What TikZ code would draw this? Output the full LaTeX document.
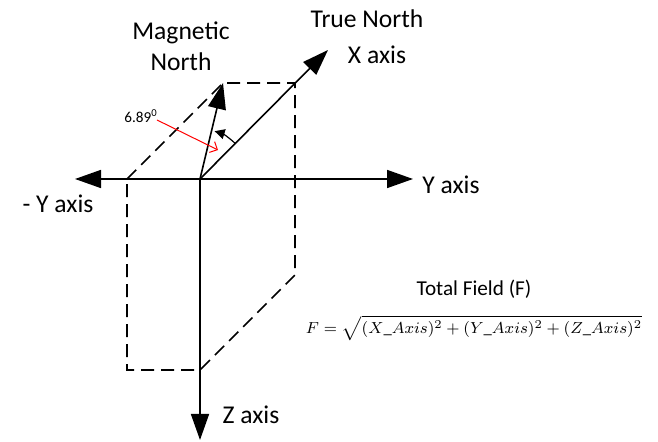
\documentclass[tikz,border=0pt]{standalone}
\usepackage{fontspec}
\setmainfont{Carlito}
\usepackage{tikz}
\usetikzlibrary{arrows.meta}

\begin{document}
\begin{tikzpicture}[x=0.5pt,y=-0.5pt,
    axis/.style={line width=0.8pt,-{Triangle[length=13pt,width=9pt]}},
    proj/.style={line width=0.8pt,dash pattern=on 6.5pt off 3.5pt},
    lbl/.style={font=\fontsize{12.8}{15.5}\selectfont,inner sep=0pt}]
  \useasboundingbox (0,0) rectangle (658,442);
  % origin and axis ends
  \coordinate (O) at (200,179);
  \coordinate (ypos) at (413,179);
  \coordinate (yneg) at (75,179);
  \coordinate (zneg) at (200,440);
  \coordinate (tnorth) at (328,50);
  \coordinate (mnorth) at (223,83);
  % dashed projection box
  \draw[proj] (127,179) -- (mnorth) -- (295,83) -- (295,275) -- (200,370) -- (127,370) -- cycle;
  % axes
  \draw[axis] (O) -- (ypos);
  \draw[axis] (O) -- (yneg);
  \draw[axis] (O) -- (zneg);
  \draw[axis] (O) -- (tnorth);
  \draw[axis] (O) -- (mnorth);
  % declination angle
  \draw[line width=0.6pt,-{Triangle[length=5pt,width=5pt]}] (O) ++(-45:50) arc[start angle=-45,end angle=-73,radius=50];
  \node[font=\fontsize{7.6}{9}\selectfont,inner sep=0pt] (decl) at (141,116) {6.89\textsuperscript{0}};
  \coordinate (decltail) at (157,120);
  \coordinate (decltip) at (218,150);
  \draw[red,line width=0.5pt,-{Straight Barb[length=3pt,width=6pt]}] (decltail) -- (decltip);
  % labels
  \node[lbl,align=center] (magn) at (181,46) {Magnetic\\North};
  \node[lbl] (truen) at (367,19) {True North};
  \node[lbl] (xlab) at (377,55) {X axis};
  \node[lbl] (ylab) at (451,185) {Y axis};
  \node[lbl] (ynlab) at (58,204) {- Y axis};
  \node[lbl] (zlab) at (251,415) {Z axis};
  \node[font=\fontsize{10.6}{13}\selectfont,inner sep=0pt] (field) at (474,289) {Total Field (F)};
  \node[font=\fontsize{8.3}{10}\selectfont,inner sep=0pt] (formula) at (474,328)
    {$F=\sqrt{(X\_Axis)^2+(Y\_Axis)^2+(Z\_Axis)^2}$};
\end{tikzpicture}
\end{document}
